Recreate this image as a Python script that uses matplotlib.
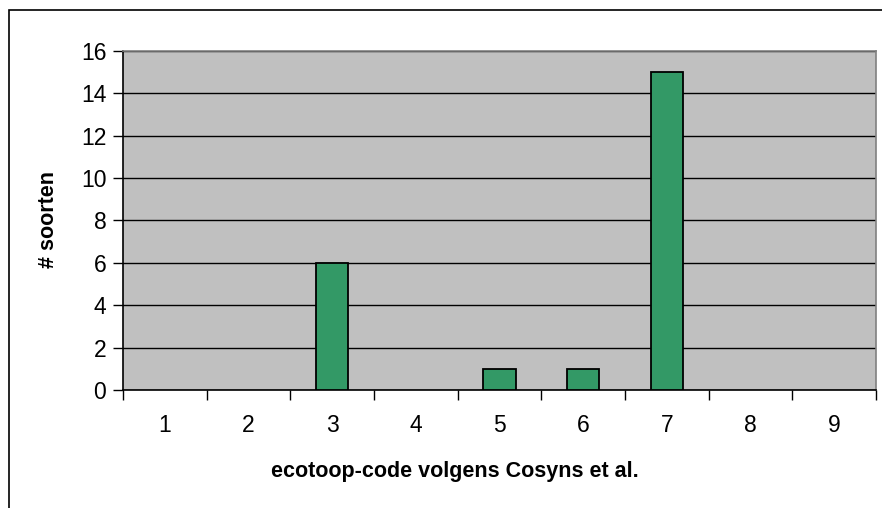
import matplotlib
matplotlib.use("Agg")
import matplotlib.pyplot as plt
from matplotlib.patches import Rectangle

categories = ["1", "2", "3", "4", "5", "6", "7", "8", "9"]
values = [0, 0, 6, 0, 1, 1, 15, 0, 0]
yticks = [0, 2, 4, 6, 8, 10, 12, 14, 16]

plt.rcParams['font.family'] = ['Liberation Sans', 'DejaVu Sans']

W, H = 882, 508
fig = plt.figure(figsize=(W / 100, H / 100), dpi=100)
fig.patch.set_facecolor('white')

# outer chart border (left and top visible)
fig.add_artist(Rectangle((8.5 / W, -0.05), 1.2, 1 - 10.5 / H + 0.05, transform=fig.transFigure,
                         fill=False, edgecolor='black', linewidth=1.2))

ax = fig.add_axes([123 / W, 1 - 390 / H, (876 - 123) / W, (390 - 51) / H])
ax.set_facecolor('#C0C0C0')

x = list(range(len(categories)))
bars = ax.bar(x, values, width=0.39, color='#339966', edgecolor='black', linewidth=1.3, zorder=3)
for b, v in zip(bars, values):
    if v == 0:
        b.set_linewidth(0)

ax.set_xlim(-0.5, len(categories) - 0.5)
ax.set_ylim(0, 16)
ax.set_yticks(yticks)
ax.set_yticklabels([str(v) for v in yticks], fontsize=16.5)
ax.yaxis.grid(True, color='black', linewidth=1.0, zorder=1)
ax.set_axisbelow(True)

ax.set_xticks(x)
ax.set_xticklabels(categories, fontsize=16.5)
ax.set_xticks([i - 0.5 for i in range(len(categories) + 1)], minor=True)
ax.tick_params(axis='x', which='major', length=0, pad=17)
ax.tick_params(axis='x', which='minor', length=7, width=1, color='black', direction='out')
ax.tick_params(axis='y', length=7, width=1, color='black', direction='out', pad=5)

for s in ['top', 'right']:
    ax.spines[s].set_color('#808080')
    ax.spines[s].set_linewidth(1.2)
for s in ['left', 'bottom']:
    ax.spines[s].set_color('black')
    ax.spines[s].set_linewidth(1.2)

fig.text(455 / W, 1 - 471 / H, 'ecotoop-code volgens Cosyns et al.', ha='center', va='center',
         fontsize=15.5, fontweight='bold')
fig.text(49 / W, 1 - 220 / H, '# soorten', ha='center', va='center', rotation=90,
         fontsize=15.5, fontweight='bold')

fig.savefig('out.png', dpi=100)
